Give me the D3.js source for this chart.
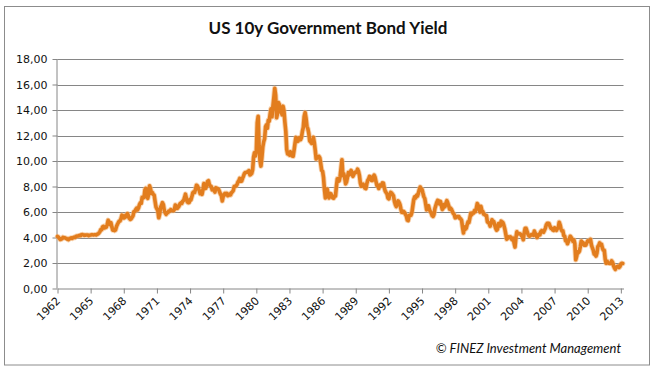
<!DOCTYPE html>
<html>
<head>
<meta charset="utf-8">
<script src="https://cdn.jsdelivr.net/npm/d3@7"></script>
<style>
  html, body { margin: 0; padding: 0; background: #fff; }
  svg { display: block; }
</style>
</head>
<body>
<svg id="chart" width="655" height="370"></svg>
<script>
// ---- Data (monthly US 10y government bond yield, %, starting Jan 1962) ----
const startYear = 1962;
const yields1960s = [
  4.08,4.04,3.93,3.84,3.87,3.91,4.01,3.98,3.98,3.93,3.92,3.86,
  3.83,3.92,3.93,3.97,3.93,3.99,4.02,4.00,4.08,4.11,4.12,4.13,
  4.17,4.15,4.22,4.23,4.20,4.17,4.19,4.19,4.20,4.19,4.15,4.18,
  4.19,4.21,4.21,4.20,4.21,4.21,4.20,4.25,4.29,4.35,4.45,4.62,
  4.61,4.83,4.87,4.75,4.78,4.81,5.02,5.35,5.18,5.01,5.16,4.84,
  4.58,4.63,4.54,4.59,4.85,5.02,5.16,5.28,5.30,5.48,5.75,5.70,
  5.53,5.56,5.74,5.64,5.87,5.72,5.50,5.42,5.46,5.58,5.70,6.03,
  6.04,6.19,6.30,6.17,6.32,6.57,6.72,6.69,7.16,7.10,7.14,7.75
];
const yields1970s = [
  7.85,7.24,7.07,7.39,8.05,7.84,7.46,7.53,7.39,7.33,6.84,6.39,
  6.24,6.11,5.55,5.83,6.39,6.52,6.73,6.58,6.14,5.93,5.81,5.93,
  5.95,6.08,6.07,6.19,6.13,6.11,6.11,6.21,6.55,6.48,6.28,6.36,
  6.46,6.64,6.71,6.67,6.85,6.90,7.13,7.40,7.09,6.79,6.73,6.74,
  6.99,6.96,7.21,7.51,7.58,7.54,7.81,8.10,8.04,7.90,7.68,7.43,
  7.50,7.39,7.73,8.23,8.06,7.86,8.06,8.40,8.45,8.14,8.05,8.00,
  7.74,7.79,7.73,7.56,7.90,7.86,7.83,7.77,7.59,7.41,7.29,6.87,
  7.21,7.39,7.46,7.37,7.46,7.28,7.33,7.40,7.34,7.52,7.58,7.69,
  8.01,8.03,8.04,8.15,8.35,8.46,8.64,8.41,8.42,8.64,8.81,9.01,
  9.10,9.10,9.12,9.18,9.25,8.91,8.95,9.03,9.33,10.30,10.65,10.39
];
const yields1980s = [
  10.80,13.00,13.50,11.20,10.00,9.60,10.25,11.10,11.51,11.75,12.68,12.84,
  12.57,13.19,13.12,13.68,14.10,13.47,14.28,14.94,15.70,15.15,13.39,13.72,
  14.59,14.43,13.86,13.87,13.62,14.30,13.95,13.06,12.34,10.91,10.55,10.54,
  10.46,10.72,10.51,10.40,10.38,10.85,11.38,11.85,11.65,11.54,11.69,11.83,
  11.67,11.84,12.32,12.63,13.50,13.80,13.36,12.72,12.52,12.16,11.57,11.50,
  11.38,11.51,11.86,11.43,10.85,10.16,10.31,10.33,10.37,10.24,9.78,9.26,
  9.19,8.70,7.78,7.10,7.71,7.80,7.30,7.10,7.45,7.43,7.25,7.11,
  7.08,7.25,7.25,8.02,8.61,8.40,8.45,8.76,9.42,10.10,8.86,8.99,
  8.67,8.21,8.37,8.72,9.09,8.92,9.06,9.26,8.98,8.80,8.96,9.11,
  9.09,9.17,9.36,9.18,8.86,8.28,8.02,8.11,8.19,8.01,7.87,7.84
];
const yields1990s = [
  8.21,8.47,8.59,8.79,8.76,8.48,8.47,8.75,8.89,8.72,8.39,8.08,
  8.09,7.85,8.11,8.04,8.07,8.28,8.27,7.90,7.65,7.53,7.42,7.09,
  7.03,7.34,7.54,7.48,7.39,7.26,6.84,6.59,6.42,6.59,6.87,6.77,
  6.60,6.26,5.98,5.97,6.04,5.96,5.81,5.68,5.36,5.33,5.72,5.77,
  5.75,5.97,6.48,6.97,7.18,7.10,7.30,7.24,7.46,7.74,7.96,7.81,
  7.78,7.47,7.20,7.06,6.63,6.17,6.28,6.49,6.20,6.04,5.93,5.71,
  5.65,5.81,6.27,6.51,6.74,6.91,6.87,6.64,6.83,6.53,6.20,6.30,
  6.58,6.42,6.69,6.89,6.71,6.49,6.22,6.30,6.21,6.03,5.88,5.81,
  5.54,5.57,5.65,5.64,5.65,5.50,5.46,5.34,4.81,4.35,4.83,4.65,
  4.72,5.00,5.23,5.18,5.54,5.90,5.79,5.94,5.92,6.11,6.03,6.28
];
const yields2000s = [
  6.66,6.52,6.26,5.99,6.44,6.10,6.05,5.83,5.80,5.74,5.72,5.24,
  5.16,5.10,4.89,5.14,5.39,5.28,5.24,4.97,4.73,4.57,4.65,5.09,
  5.04,4.91,5.28,5.21,5.16,4.93,4.65,4.26,3.87,3.94,4.05,4.03,
  4.05,3.90,3.81,3.96,3.57,3.25,3.98,4.45,4.27,4.29,4.30,4.27,
  4.15,4.08,3.83,4.35,4.72,4.73,4.50,4.28,4.13,4.10,4.19,4.23,
  4.22,4.17,4.50,4.34,4.14,4.00,4.18,4.26,4.20,4.46,4.54,4.47,
  4.42,4.57,4.72,4.99,5.11,5.11,5.09,4.88,4.72,4.73,4.60,4.56,
  4.76,4.72,4.56,4.69,4.75,5.20,5.00,4.67,4.52,4.53,4.15,4.10,
  3.74,3.74,3.51,3.68,3.88,4.10,4.01,3.89,3.69,3.81,3.53,2.25,
  2.52,2.87,2.82,2.93,3.29,3.72,3.56,3.59,3.40,3.39,3.40,3.59
];
const yields2010s = [
  3.73,3.69,3.73,3.85,3.42,3.20,3.01,2.70,2.65,2.54,2.76,3.29,
  3.39,3.58,3.41,3.46,3.17,3.00,3.00,2.30,1.98,2.15,2.01,1.98,
  1.97,1.97,2.17,2.05,1.80,1.62,1.50,1.68,1.72,1.75,1.65,1.72,
  1.91,1.98,1.96
];
const xTickYears = [1962,1965,1968,1971,1974,1977,1980,1983,1986,1989,1992,1995,1998,2001,2004,2007,2010,2013];
const yTickValues = [0,2,4,6,8,10,12,14,16,18];
const titleText = "US 10y Government Bond Yield";
const footerText = "© FINEZ Investment Management";

// ---- Build series ----
const allYields = [].concat(yields1960s, yields1970s, yields1980s, yields1990s, yields2000s, yields2010s);
const series = allYields.map((v, i) => ({ t: startYear + i / 12, v }));

// ---- Layout ----
const plot = { left: 57.5, right: 623.5, top: 59, bottom: 288.5 };

const svg = d3.select("#chart");

// Outer border
svg.append("rect")
  .attr("x", 4.5).attr("y", 6.5)
  .attr("width", 645).attr("height", 358.5)
  .attr("fill", "#fff")
  .attr("stroke", "#8c8c8c").attr("stroke-width", 1);

const x = d3.scaleLinear().domain([1962, 2013.24]).range([plot.left, plot.right]);
const y = d3.scaleLinear().domain([0, 18]).range([plot.bottom, plot.top]);

// Gridlines
svg.append("g")
  .selectAll("line")
  .data(yTickValues.filter(d => d > 0))
  .join("line")
  .attr("x1", plot.left).attr("x2", plot.right)
  .attr("y1", d => Math.round(y(d)) + 0.5).attr("y2", d => Math.round(y(d)) + 0.5)
  .attr("stroke", "#868686").attr("stroke-width", 1);

// Y axis
const yAxis = d3.axisLeft(y)
  .tickValues(yTickValues)
  .tickSize(5)
  .tickPadding(5)
  .tickFormat(d => d3.format(".2f")(d).replace(".", ","));
const gy = svg.append("g")
  .attr("transform", `translate(${plot.left},0)`)
  .call(yAxis);
gy.select(".domain").attr("stroke", "#868686").attr("d", `M-0.5,${plot.top}V${plot.bottom}`);
gy.selectAll(".tick line").attr("stroke", "#868686");
gy.selectAll(".tick text")
  .attr("font-family", "'DejaVu Sans', Verdana, sans-serif")
  .attr("font-size", "11px").attr("fill", "#111");

// X axis
const xAxis = d3.axisBottom(x)
  .tickValues(xTickYears)
  .tickSize(5)
  .tickSizeOuter(0)
  .tickFormat(d => String(d));
const gx = svg.append("g")
  .attr("transform", `translate(0,${plot.bottom})`)
  .call(xAxis);
gx.select(".domain").attr("stroke", "#868686");
gx.selectAll(".tick line").attr("stroke", "#868686");
gx.selectAll(".tick text")
  .attr("font-family", "'DejaVu Sans', Verdana, sans-serif")
  .attr("font-size", "11px").attr("fill", "#111")
  .attr("text-anchor", "end")
  .attr("dy", null).attr("y", 0)
  .attr("transform", "translate(3,13) rotate(-45)");

// Line (halo + main stroke)
const line = d3.line().x(d => x(d.t)).y(d => y(d.v));
svg.append("path")
  .datum(series)
  .attr("d", line)
  .attr("fill", "none")
  .attr("stroke", "#f3b57a").attr("stroke-opacity", 0.6)
  .attr("stroke-width", 5.4)
  .attr("stroke-linejoin", "round").attr("stroke-linecap", "round");
svg.append("path")
  .datum(series)
  .attr("d", line)
  .attr("fill", "none")
  .attr("stroke", "#e27d1e")
  .attr("stroke-width", 3.6)
  .attr("stroke-linejoin", "round").attr("stroke-linecap", "round");

// Title
svg.append("text")
  .attr("x", 328).attr("y", 34)
  .attr("text-anchor", "middle")
  .attr("font-family", "Lato, 'Open Sans', sans-serif")
  .attr("font-weight", "bold")
  .attr("font-size", "17px")
  .attr("fill", "#111")
  .text(titleText);

// Footer
svg.append("text")
  .attr("x", 621).attr("y", 353)
  .attr("text-anchor", "end")
  .attr("font-family", "Lato, 'Open Sans', sans-serif")
  .attr("font-style", "italic")
  .attr("font-size", "13px")
  .attr("fill", "#111")
  .text(footerText);
</script>
</body>
</html>
